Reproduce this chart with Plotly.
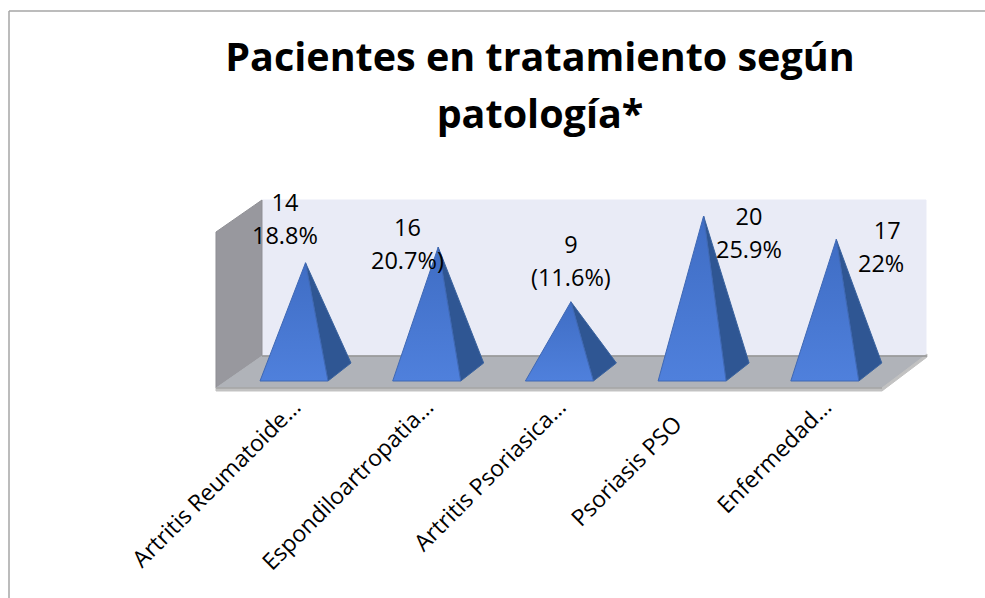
import plotly.graph_objects as go

categories = ["Artritis Reumatoide…", "Espondiloartropatia…", "Artritis Psoriasica…", "Psoriasis PSO\u00a0\u00a0\u00a0\u00a0", "Enfermedad…"]
values = [14, 16, 9, 20, 17]
percent_labels = ["18.8%", "20.7%)", "(11.6%)", "25.9%", "22%\u00a0\u00a0"]

W, H = 985, 598
L, R, T, B = 200, 940, 190, 388        # plot rectangle in px
X_STEP = 132.7                         # px per category
X_ZERO = 294.0                         # px of first category centre
Y_UNIT = 7.8                           # px per value unit
Y_ZERO = 372.0                         # px of value 0 (centre of pyramid base)
HALF = 34 / X_STEP                     # half base width
DX = 23 / X_STEP                       # depth in x
DY = 18 / Y_UNIT                       # depth in y

x_range = [(L - X_ZERO) / X_STEP, (R - X_ZERO) / X_STEP]
y_range = [(Y_ZERO - B) / Y_UNIT, (Y_ZERO - T) / Y_UNIT]

def px(x):
    return (x - L) / (R - L)
def py(y):
    return (B - y) / (B - T)
def poly(points, fill, line=None):
    path = "M " + " L ".join(f"{px(a):.5f},{py(b):.5f}" for a, b in points) + " Z"
    return dict(type="path", xref="paper", yref="paper", path=path, fillcolor=fill,
                line=dict(color=line or fill, width=1), layer="below")

shapes = [
    poly([(262, 200), (926, 200), (926, 356), (262, 356)], "#E9EBF6"),
    poly([(216, 232), (262, 200), (262, 356), (216, 388)], "#98989E", "#8F8F94"),
    poly([(216, 388), (262, 356), (927, 356), (882, 388)], "#B0B3B9"),
    poly([(216, 388), (882, 388), (882, 391), (216, 391)], "#C2C2C2"),
    poly([(882, 391), (927, 357), (927, 354), (882, 388)], "#C2C2C2"),
    dict(type="line", xref="paper", yref="paper", x0=px(216), x1=px(882), y0=py(388), y1=py(388),
         line=dict(color="#969696", width=1), layer="below"),
    dict(type="line", xref="paper", yref="paper", x0=px(262), x1=px(927), y0=py(356), y1=py(356),
         line=dict(color="#969696", width=1.5), layer="below"),
    dict(type="line", xref="paper", yref="paper", x0=px(9), x1=px(W), y0=py(11), y1=py(11),
         line=dict(color="#A6A6A6", width=1.5)),
    dict(type="line", xref="paper", yref="paper", x0=px(9), x1=px(9), y0=py(11), y1=py(H),
         line=dict(color="#A6A6A6", width=1.5)),
]

fig = go.Figure()
base = -DY / 2
for i, v in enumerate(values):
    apex_x = i + DX / 2
    # side face
    fig.add_trace(go.Scatter(
        x=[i + HALF, i + HALF + DX, apex_x, i + HALF],
        y=[base, base + DY, v, base],
        mode="lines", fill="toself", fillcolor="#2F5693",
        line=dict(color="#3A639F", width=1), hoverinfo="skip", showlegend=False))
    # front face
    fig.add_trace(go.Scatter(
        x=[i - HALF, i + HALF, apex_x, i - HALF],
        y=[base, base, v, base],
        mode="lines", fill="toself",
        fillgradient=dict(type="vertical", colorscale=[[0, "#4F80DC"], [1, "#3F6DC4"]]),
        line=dict(color="#3F68B4", width=1), hoverinfo="skip", showlegend=False))

shifts = [(-21, 44), (-31, 4), (0, 41), (45, -16), (51, -7)]
annotations = []
for i, v in enumerate(values):
    annotations.append(dict(
        x=i + DX / 2, y=v, xref="x", yref="y",
        xshift=shifts[i][0], yshift=shifts[i][1],
        text=f'<span style="font-size:23.5px">{v}<br>{percent_labels[i]}</span>',
        showarrow=False, xanchor="center", yanchor="middle",
        font=dict(family="Open Sans", size=25.4, color="#000000")))

fig.update_layout(
    width=W, height=H,
    margin=dict(l=L, r=W - R, t=T, b=H - B, autoexpand=False),
    paper_bgcolor="#FFFFFF", plot_bgcolor="rgba(0,0,0,0)",
    title=dict(
        text='<span style="font-size:39.5px">Pacientes en tratamiento según<br>patología*</span>',
        font=dict(family="Open Sans", size=44, color="#000000", weight="bold"),
        x=540 / W, xanchor="center", y=1 - 71 / H, yanchor="middle", automargin=False),
    xaxis=dict(range=x_range, tickvals=list(range(len(categories))), ticktext=categories,
               tickangle=-45, ticks="", showgrid=False, zeroline=False, showline=False,
               tickfont=dict(family="Open Sans", size=23, color="#000000")),
    yaxis=dict(range=y_range, visible=False),
    shapes=shapes, annotations=annotations, showlegend=False,
)
fig.write_html("out.html", config=dict(displayModeBar=False),
               post_script="document.body.style.margin='0';document.documentElement.style.overflow='hidden';")
